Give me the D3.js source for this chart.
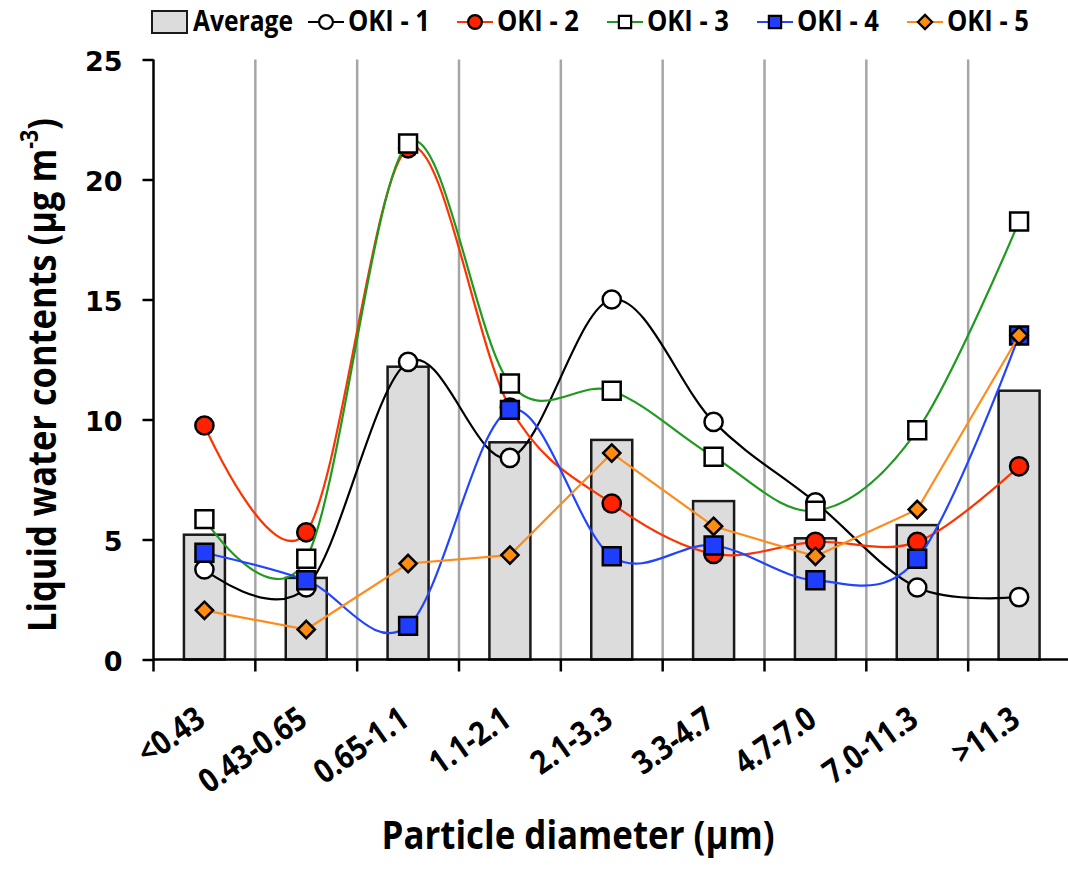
<!DOCTYPE html>
<html>
<head>
<meta charset="utf-8">
<script src="https://cdn.jsdelivr.net/npm/d3@7"></script>
<style>
  html, body { margin: 0; padding: 0; background: #fff; }
  svg { display: block; }
</style>
</head>
<body>
<svg id="chart" width="1068" height="869"></svg>
<script>
const categories = ["<0.43", "0.43-0.65", "0.65-1.1", "1.1-2.1", "2.1-3.3", "3.3-4.7", "4.7-7.0", "7.0-11.3", ">11.3"];
const average = [5.2, 3.4, 12.2, 9.05, 9.15, 6.6, 5.05, 5.6, 11.2];
const oki1 = [3.75, 3.0, 12.4, 8.4, 15.0, 9.9, 6.55, 3.0, 2.6];
const oki2 = [9.75, 5.3, 21.3, 10.5, 6.5, 4.4, 4.9, 4.9, 8.05];
const oki3 = [5.85, 4.2, 21.5, 11.5, 11.2, 8.45, 6.2, 9.55, 18.25];
const oki4 = [4.45, 3.3, 1.4, 10.4, 4.3, 4.75, 3.3, 4.2, 13.5];
const oki5 = [2.05, 1.25, 4.0, 4.35, 8.6, 5.55, 4.3, 6.25, 13.5];
const seriesNames = ["OKI - 1", "OKI - 2", "OKI - 3", "OKI - 4", "OKI - 5"];
const yTicks = [0, 5, 10, 15, 20, 25];

const FONT = "'Open Sans', sans-serif";
const SQUEEZE = 0.86;
const series = [
  { name: seriesNames[0], values: oki1, line: "#000000", fill: "#ffffff", shape: "circle", smooth: true },
  { name: seriesNames[1], values: oki2, line: "#ff3300", fill: "#ff2200", shape: "circle", smooth: true },
  { name: seriesNames[2], values: oki3, line: "#1f9a1f", fill: "#ffffff", shape: "square", smooth: true },
  { name: seriesNames[3], values: oki4, line: "#2244ff", fill: "#1f3dff", shape: "square", smooth: true },
  { name: seriesNames[4], values: oki5, line: "#ff8c1a", fill: "#ff8c10", shape: "diamond", smooth: false }
];

const svg = d3.select("#chart");
const plotL = 153.5, plotR = 1070, plotT = 59.5, plotB = 659.5;

const x = d3.scaleBand().domain(categories).range([plotL, plotR]).padding(0);
const y = d3.scaleLinear().domain([0, 25]).range([plotB, plotT]);
const cx = c => x(c) + x.bandwidth() / 2;

function squeeze(sel, target) {
  sel.each(function () {
    const w = this.getComputedTextLength();
    const t = target == null ? w * SQUEEZE : target;
    d3.select(this).attr("textLength", t).attr("lengthAdjust", "spacingAndGlyphs");
  });
}

// vertical gridlines at category boundaries
const bounds = categories.slice(1).map(c => x(c)).concat([plotR]);
svg.append("g").selectAll("line").data(bounds).join("line")
  .attr("x1", d => d).attr("x2", d => d)
  .attr("y1", y(25)).attr("y2", plotB)
  .attr("stroke", "#a6a6a6").attr("stroke-width", 2.5);

// bars
const barW = 41;
svg.append("g").selectAll("rect").data(average).join("rect")
  .attr("x", (d, i) => cx(categories[i]) - barW / 2)
  .attr("y", d => y(d))
  .attr("width", barW)
  .attr("height", d => plotB - y(d))
  .attr("fill", "#dcdcdc").attr("stroke", "#1a1a1a").attr("stroke-width", 2.5);

// axes
const yAxis = svg.append("g").attr("transform", `translate(${plotL},0)`)
  .call(d3.axisLeft(y).tickValues(yTicks).tickSize(11).tickPadding(20).tickFormat(d3.format("d")));
yAxis.select(".domain").attr("stroke", "#000").attr("stroke-width", 2.5).attr("d", `M0,${y(25)}V${plotB}`);
yAxis.selectAll(".tick line").attr("stroke", "#000").attr("stroke-width", 2.5);
yAxis.selectAll(".tick text").attr("font-family", "'DejaVu Sans', Verdana, sans-serif")
  .attr("font-weight", "bold").attr("font-size", 27).attr("fill", "#000").attr("dy", "0.42em");

// x axis line + boundary ticks
svg.append("line").attr("x1", plotL).attr("x2", plotR + 2).attr("y1", plotB).attr("y2", plotB)
  .attr("stroke", "#000").attr("stroke-width", 2.5);
svg.append("g").selectAll("line").data([plotL].concat(bounds)).join("line")
  .attr("x1", d => d).attr("x2", d => d).attr("y1", plotB).attr("y2", plotB + 12)
  .attr("stroke", "#000").attr("stroke-width", 2.5);

// x tick labels (rotated)
const xl = svg.append("g").selectAll("text").data(categories).join("text")
  .attr("transform", d => `translate(${cx(d) + 3},724) rotate(-35)`)
  .attr("text-anchor", "end")
  .attr("font-family", FONT).attr("font-weight", "bold").attr("font-size", 33).attr("fill", "#000")
  .text(d => d);
squeeze(xl);

// series
const symbolPath = (shape, size) => {
  const t = shape === "circle" ? d3.symbolCircle : shape === "square" ? d3.symbolSquare : d3.symbolDiamond2;
  return d3.symbol().type(t).size(size)();
};
const sizeFor = shape => shape === "circle" ? 260 : shape === "square" ? 320 : 190;

series.forEach(s => {
  const g = svg.append("g");
  const lineGen = d3.line()
    .x((d, i) => cx(categories[i]))
    .y(d => y(d))
    .curve(s.smooth ? d3.curveCardinal.tension(0) : d3.curveLinear);
  g.append("path").attr("d", lineGen(s.values))
    .attr("fill", "none").attr("stroke", s.line).attr("stroke-width", 2.2);
  g.selectAll("path.m").data(s.values).join("path").attr("class", "m")
    .attr("d", symbolPath(s.shape, sizeFor(s.shape)))
    .attr("transform", (d, i) => `translate(${cx(categories[i])},${y(d)})`)
    .attr("fill", s.fill).attr("stroke", "#000").attr("stroke-width", 2.5);
});

// axis titles
const yt = svg.append("text")
  .attr("transform", "translate(56,375) rotate(-90)")
  .attr("text-anchor", "middle")
  .attr("font-family", FONT).attr("font-weight", "bold").attr("font-size", 39).attr("fill", "#000");
yt.append("tspan").text("Liquid water contents (µg m");
yt.append("tspan").attr("font-size", "0.62em").attr("dy", "-0.75em").text("-3");
yt.append("tspan").attr("dy", "0.46em").text(")");
squeeze(yt, 514);

const xt = svg.append("text")
  .attr("x", 578).attr("y", 849)
  .attr("text-anchor", "middle")
  .attr("font-family", FONT).attr("font-weight", "bold").attr("font-size", 39).attr("fill", "#000")
  .text("Particle diameter (µm)");
squeeze(xt, 393);

// legend
const leg = svg.append("g");
leg.append("rect").attr("x", 152).attr("y", 11).attr("width", 35).attr("height", 22)
  .attr("fill", "#dcdcdc").attr("stroke", "#1a1a1a").attr("stroke-width", 2);
const avgText = leg.append("text").attr("x", 193).attr("y", 31)
  .attr("font-family", FONT).attr("font-weight", "bold").attr("font-size", 28).attr("fill", "#000")
  .text("Average");
squeeze(avgText, 100);
const legX = [348, 497, 647, 797, 947];
series.forEach((s, i) => {
  const tx = legX[i];
  leg.append("line").attr("x1", tx - 40).attr("x2", tx - 4).attr("y1", 22).attr("y2", 22)
    .attr("stroke", s.line).attr("stroke-width", 2.2);
  leg.append("path").attr("d", symbolPath(s.shape, s.shape === "diamond" ? 130 : 150))
    .attr("transform", `translate(${tx - 22},22)`)
    .attr("fill", s.fill).attr("stroke", "#000").attr("stroke-width", 2.2);
  const t = leg.append("text").attr("x", tx).attr("y", 31)
    .attr("font-family", FONT).attr("font-weight", "bold").attr("font-size", 28).attr("fill", "#000")
    .text(s.name);
  squeeze(t, 82);
});
</script>
</body>
</html>
